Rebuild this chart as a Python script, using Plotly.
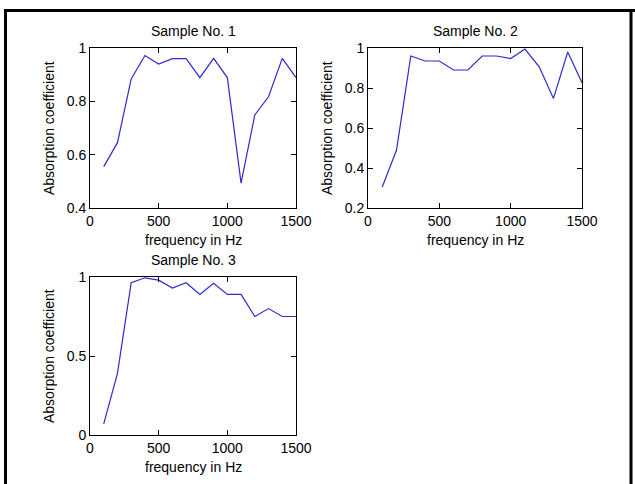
import plotly.graph_objects as go

freq = [100, 200, 300, 400, 500, 600, 700, 800, 900, 1000, 1100, 1200, 1300, 1400, 1500]
sample1 = [0.555, 0.645, 0.884, 0.972, 0.94, 0.96, 0.96, 0.889, 0.961, 0.889, 0.493, 0.749, 0.817, 0.961, 0.889]
sample2 = [0.305, 0.49, 0.96, 0.935, 0.935, 0.89, 0.89, 0.96, 0.96, 0.947, 0.995, 0.906, 0.748, 0.98, 0.826]
sample3 = [0.07, 0.39, 0.964, 0.995, 0.98, 0.93, 0.964, 0.89, 0.96, 0.89, 0.89, 0.75, 0.80, 0.75, 0.75]

titles = ["Sample No. 1", "Sample No. 2", "Sample No. 3"]
xlabel = "frequency in Hz"
ylabel = "Absorption coefficient"
xticks = [0, 500, 1000, 1500]
yticks1 = [0.4, 0.6, 0.8, 1.0]
yticks2 = [0.2, 0.4, 0.6, 0.8, 1.0]
yticks3 = [0, 0.5, 1.0]

W, H = 635, 484
FONT = dict(family="Liberation Sans, Arial, sans-serif", size=14, color="black")

def fx(px):
    return px / W

def fy(py):
    return 1 - py / H

# pixel boxes: (left, right, top, bottom)
boxes = [(90, 296, 48, 208), (368, 582, 48, 208), (90, 296, 277, 435)]
yranges = [[0.4, 1.0], [0.2, 1.0], [0, 1.0]]
yticksets = [yticks1, yticks2, yticks3]
series = [sample1, sample2, sample3]

def fmt(v):
    if abs(v - round(v)) < 1e-9:
        return str(int(round(v)))
    return ("%g" % v)

fig = go.Figure()
layout = dict(
    template="none",
    width=W, height=H,
    margin=dict(l=0, r=0, t=0, b=0, pad=0, autoexpand=False),
    paper_bgcolor="white", plot_bgcolor="white",
    showlegend=False, font=FONT,
)
annotations = []
for i, ((l, r, t, b), yr, yt, ys) in enumerate(zip(boxes, yranges, yticksets, series)):
    n = "" if i == 0 else str(i + 1)
    fig.add_trace(go.Scatter(x=freq, y=ys, mode="lines",
                             line=dict(color="#2b2bd0", width=1.2),
                             xaxis="x" + n, yaxis="y" + n))
    common = dict(showgrid=False, zeroline=False, showline=True, linecolor="black",
                  linewidth=1, mirror="ticks", ticks="inside", ticklen=5,
                  tickcolor="black", tickfont=FONT, automargin=False)
    layout["xaxis" + n] = dict(domain=[fx(l), fx(r)], range=[0, 1500],
                               tickvals=xticks, ticktext=[fmt(v) for v in xticks],
                               anchor="y" + n, **common)
    layout["yaxis" + n] = dict(domain=[fy(b), fy(t)], range=yr,
                               tickvals=yt, ticktext=[fmt(v) for v in yt],
                               anchor="x" + n, **common)
    cx = (l + r) / 2
    annotations.append(dict(text=titles[i], x=fx(cx), y=fy(t - 17), xref="paper", yref="paper",
                            showarrow=False, font=FONT, xanchor="center", yanchor="middle"))
    annotations.append(dict(text=xlabel, x=fx(cx), y=fy(b + 32), xref="paper", yref="paper",
                            showarrow=False, font=FONT, xanchor="center", yanchor="middle"))
    annotations.append(dict(text=ylabel, x=fx(l - 41), y=fy((t + b) / 2), xref="paper", yref="paper",
                            showarrow=False, font=FONT, textangle=-90,
                            xanchor="center", yanchor="middle"))

layout["annotations"] = annotations
layout["shapes"] = [
    dict(type="line", xref="paper", yref="paper", x0=fx(4), x1=fx(635), y0=fy(10.5), y1=fy(10.5),
         line=dict(color="black", width=3)),
    dict(type="line", xref="paper", yref="paper", x0=fx(5.5), x1=fx(5.5), y0=fy(9), y1=fy(484),
         line=dict(color="black", width=3)),
    dict(type="line", xref="paper", yref="paper", x0=fx(631), x1=fx(631), y0=fy(9), y1=fy(484),
         line=dict(color="black", width=3)),
]
fig.update_layout(**layout)
fig.write_html("out.html", post_script="document.body.style.margin='0';",
               config={"displayModeBar": False, "staticPlot": True})
